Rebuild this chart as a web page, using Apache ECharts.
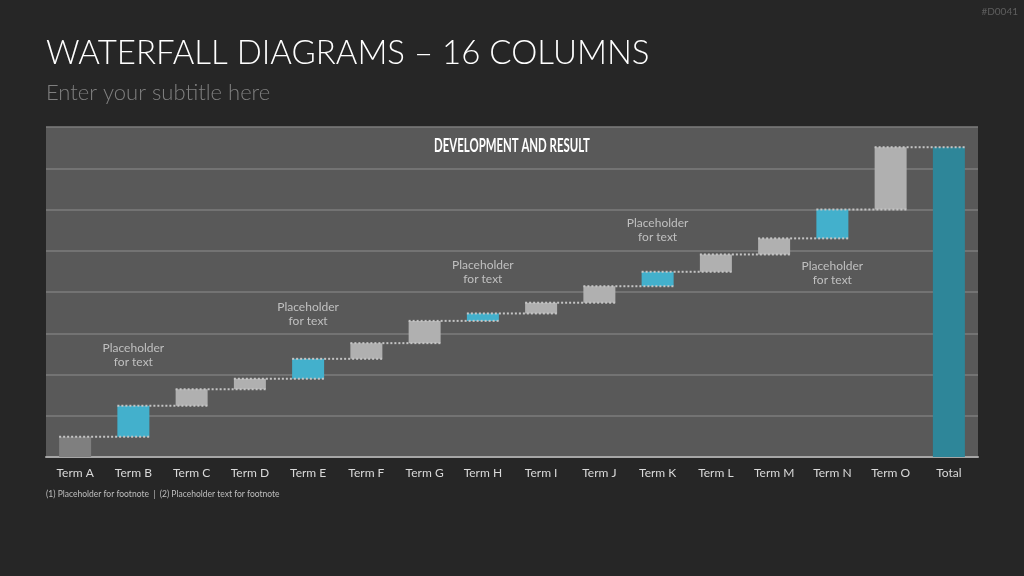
<!DOCTYPE html>
<html>
<head>
<meta charset="utf-8">
<script src="https://cdn.jsdelivr.net/npm/echarts@6/dist/echarts.min.js"></script>
<style>
  html, body {margin: 0; padding: 0; background: #262626;}
  #main {width: 1024px; height: 576px;}
</style>
</head>
<body>
<div id="main"></div>
<script>
// categories and step values (axis 0..80)
var terms = ['Term A', 'Term B', 'Term C', 'Term D', 'Term E', 'Term F', 'Term G', 'Term H',
  'Term I', 'Term J', 'Term K', 'Term L', 'Term M', 'Term N', 'Term O', 'Total'];
var steps = [4.9, 7.5, 4.0, 2.6, 4.8, 3.8, 5.4, 1.8, 2.6, 4.0, 3.5, 4.2, 3.9, 7.0, 15.1];
var highlighted = ['Term B', 'Term E', 'Term H', 'Term K', 'Term N'];

// placeholder notes: category + vertical position in axis units
var noteTerms = ['Term B', 'Term E', 'Term H', 'Term K', 'Term N'];
var noteY = [24.7, 34.7, 44.8, 55.0, 44.6];
var noteText = 'Placeholder\nfor text';

var grey = '#b0b0b0';
var firstGrey = '#7f7f7f';
var cyan = '#43b0cc';
var teal = '#2e8699';

// build base/visible parts of the waterfall
var base = [], shown = [], ends = [];
var run = 0;
steps.forEach(function (v, i) {
  base.push(run);
  run += v;
  ends.push(+run.toFixed(2));
  var c = i === 0 ? firstGrey : (highlighted.indexOf(terms[i]) >= 0 ? cyan : grey);
  shown.push({value: v, itemStyle: {color: c}});
});
base.push(0);
shown.push({value: +run.toFixed(2), itemStyle: {color: teal}});
ends.push(+run.toFixed(2));

// connectors from top of bar i to bar i+1
var links = [];
for (var i = 0; i < terms.length - 1; i++) {
  links.push([i, ends[i]]);
}

var chart = echarts.init(document.getElementById('main'));
var font = 'Lato, "Open Sans", sans-serif';

chart.setOption({
  backgroundColor: '#262626',
  animation: false,
  textStyle: {fontFamily: font},
  graphic: [
    {type: 'text', left: 46, top: 37, style: {text: 'WATERFALL DIAGRAMS – 16 COLUMNS', fill: '#ffffff', font: '300 33px ' + font}},
    {type: 'text', left: 46, top: 82, style: {text: 'Enter your subtitle here', fill: '#7f7f7f', font: '300 22px ' + font}},
    {type: 'text', right: 6, top: 7, style: {text: '#D0041', fill: '#5e5e5e', font: '10px ' + font}},
    {type: 'text', left: 46, top: 490, style: {text: '(1) Placeholder for footnote  |  (2) Placeholder text for footnote', fill: '#bfbfbf', font: '8.5px ' + font}},
    // chart heading, squeezed to look like a condensed face
    {type: 'text', x: 512, y: 136, scaleX: 0.6, z: 10,
      style: {text: 'DEVELOPMENT AND RESULT', fill: '#ffffff', align: 'center', font: 'bold 19px ' + font}}
  ],
  grid: {
    left: 46,
    right: 46,
    top: 127,
    bottom: 119,
    show: true,
    backgroundColor: '#595959',
    borderWidth: 0
  },
  xAxis: {
    type: 'category',
    data: terms,
    axisLine: {lineStyle: {color: '#a6a6a6', width: 2}},
    axisTick: {show: false},
    axisLabel: {color: '#d9d9d9', fontSize: 12, margin: 10, fontFamily: font}
  },
  yAxis: {
    type: 'value',
    min: 0,
    max: 80,
    interval: 10,
    axisLabel: {show: false},
    axisLine: {show: false},
    axisTick: {show: false},
    splitLine: {lineStyle: {color: '#7c7c7c', width: 1.5}}
  },
  series: [
    {
      name: 'base',
      type: 'bar',
      stack: 'wf',
      barWidth: 32,
      itemStyle: {color: 'transparent'},
      data: base,
      silent: true
    },
    {
      name: 'value',
      type: 'bar',
      stack: 'wf',
      barWidth: 32,
      data: shown
    },
    {
      name: 'links',
      type: 'custom',
      z: 5,
      data: links,
      renderItem: function (params, api) {
        var p0 = api.coord([api.value(0), api.value(1)]);
        var p1 = api.coord([api.value(0) + 1, api.value(1)]);
        var half = 16;
        return {
          type: 'line',
          shape: {x1: p0[0] - half, y1: p0[1], x2: p1[0] + half, y2: p1[1]},
          style: {stroke: '#c4c4c4', lineWidth: 2, lineDash: [2, 2]}
        };
      }
    },
    {
      name: 'notes',
      type: 'scatter',
      symbolSize: 0,
      z: 6,
      data: noteTerms.map(function (t, k) { return [t, noteY[k]]; }),
      label: {
        show: true,
        position: 'inside',
        formatter: noteText,
        color: '#d9d9d9',
        fontSize: 12,
        lineHeight: 14,
        fontFamily: font
      }
    }
  ]
});
</script>
</body>
</html>
